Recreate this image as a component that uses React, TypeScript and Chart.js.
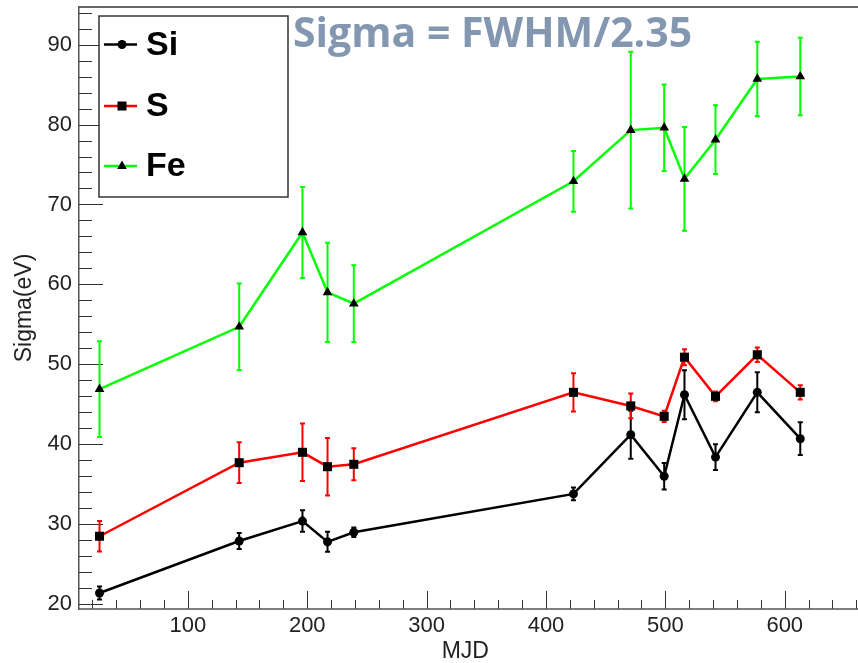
import React, { useEffect, useRef } from "react";
import { Chart, registerables } from "chart.js";

Chart.register(...registerables);

const mjd = [26, 143, 196, 217, 239, 423, 471, 499, 516, 542, 577, 613];
const siValues = [21.4, 27.9, 30.4, 27.8, 29.0, 33.8, 41.2, 36.0, 46.2, 38.4, 46.5, 40.7];
const siErrors = [0.8, 1.0, 1.35, 1.25, 0.6, 0.8, 3.0, 1.65, 3.05, 1.6, 2.5, 2.05];
const sValues = [28.5, 37.7, 39.0, 37.2, 37.5, 46.5, 44.8, 43.5, 50.9, 46.0, 51.2, 46.5];
const sErrors = [1.9, 2.55, 3.6, 3.6, 2.0, 2.4, 1.55, 0.7, 1.0, 0.6, 0.9, 0.9];
const feValues = [46.9, 54.7, 66.5, 59.0, 57.6, 72.9, 79.3, 79.6, 73.2, 78.1, 85.7, 86.0];
const feErrors = [6.0, 5.4, 5.7, 6.2, 4.8, 3.8, 9.8, 5.4, 6.5, 4.3, 4.65, 4.85];

const seriesNames = ["Si", "S", "Fe"];
const seriesColors = ["#000000", "#ff0000", "#00ff00"];
const seriesMarkers = ["circle", "rect", "triangle"];
const seriesValues = [siValues, sValues, feValues];
const seriesErrors = [siErrors, sErrors, feErrors];

const titleText = "Sigma = FWHM/2.35";
const xTitle = "MJD";
const yTitle = "Sigma(eV)";
const xRange = [8.8, 656];
const yRange = [19.4, 94.7];
const xMajorStep = 100;
const xMinorStep = 20;
const yMajorStep = 10;
const yMinorStep = 2;

const FONT = "'Liberation Sans', Arial, sans-serif";

const errorBars = {
  id: "errorBars",
  beforeDatasetsDraw(chart: any) {
    const { ctx, scales } = chart;
    const x = scales.x;
    const y = scales.y;
    ctx.save();
    ctx.lineWidth = 2;
    seriesValues.forEach((vals, i) => {
      ctx.strokeStyle = seriesColors[i];
      ctx.beginPath();
      vals.forEach((v, j) => {
        const e = seriesErrors[i][j];
        const px = x.getPixelForValue(mjd[j]);
        const top = y.getPixelForValue(v + e);
        const bot = y.getPixelForValue(v - e);
        ctx.moveTo(px, top);
        ctx.lineTo(px, bot);
        ctx.moveTo(px - 2.5, top);
        ctx.lineTo(px + 2.5, top);
        ctx.moveTo(px - 2.5, bot);
        ctx.lineTo(px + 2.5, bot);
      });
      ctx.stroke();
    });
    ctx.restore();
  },
};

const frameTicks = {
  id: "frameTicks",
  beforeDatasetsDraw(chart: any) {
    const { ctx, chartArea: a, scales } = chart;
    const x = scales.x;
    const y = scales.y;
    const w = chart.width;
    ctx.save();
    ctx.strokeStyle = "#333";
    ctx.lineWidth = 1;
    ctx.beginPath();
    const x0 = Math.ceil(x.min / xMinorStep) * xMinorStep;
    for (let v = x0; v <= x.max + 5; v += xMinorStep) {
      const px = Math.round(x.getPixelForValue(v)) + 0.5;
      const len = v % xMajorStep === 0 ? 18 : 9;
      ctx.moveTo(px, a.bottom);
      ctx.lineTo(px, a.bottom - len);
    }
    const y0 = Math.ceil(y.min / yMinorStep) * yMinorStep;
    for (let v = y0; v <= y.max; v += yMinorStep) {
      const py = Math.round(y.getPixelForValue(v)) + 0.5;
      const len = v % yMajorStep === 0 ? 24 : 13;
      ctx.moveTo(a.left, py);
      ctx.lineTo(a.left + len, py);
    }
    ctx.stroke();
    // bottom axis line and top frame line, running to the canvas edge
    ctx.strokeStyle = "#555";
    ctx.lineWidth = 1.5;
    ctx.beginPath();
    ctx.moveTo(a.left, a.bottom);
    ctx.lineTo(w, a.bottom);
    ctx.stroke();
    ctx.strokeStyle = "#666";
    ctx.lineWidth = 2;
    ctx.beginPath();
    ctx.moveTo(a.left, a.top);
    ctx.lineTo(w, a.top);
    ctx.stroke();
    ctx.restore();
  },
};

function drawMarker(ctx: CanvasRenderingContext2D, kind: string, cx: number, cy: number) {
  ctx.fillStyle = "#000";
  ctx.beginPath();
  if (kind === "circle") {
    ctx.arc(cx, cy, 4.5, 0, Math.PI * 2);
  } else if (kind === "rect") {
    ctx.rect(cx - 4.5, cy - 4.5, 9, 9);
  } else {
    ctx.moveTo(cx, cy - 5.5);
    ctx.lineTo(cx + 4.8, cy + 3);
    ctx.lineTo(cx - 4.8, cy + 3);
    ctx.closePath();
  }
  ctx.fill();
}

const overlay = {
  id: "overlay",
  afterDraw(chart: any) {
    const { ctx } = chart;
    ctx.save();
    ctx.fillStyle = "#fff";
    ctx.fillRect(99, 16, 189, 181);
    ctx.strokeStyle = "#333";
    ctx.lineWidth = 1.5;
    ctx.strokeRect(99, 16, 189, 181);
    const rows = [44.5, 106, 166];
    seriesNames.forEach((name, i) => {
      const cy = rows[i];
      ctx.strokeStyle = seriesColors[i];
      ctx.lineWidth = 2.5;
      ctx.beginPath();
      ctx.moveTo(104, cy);
      ctx.lineTo(137, cy);
      ctx.stroke();
      drawMarker(ctx, seriesMarkers[i], 122, cy);
      ctx.fillStyle = "#000";
      ctx.font = `bold 34px ${FONT}`;
      ctx.textBaseline = "middle";
      ctx.textAlign = "left";
      ctx.fillText(name, 146, cy + 1);
    });
    ctx.fillStyle = "#8497b0";
    ctx.font = "bold 41px 'Open Sans', sans-serif";
    ctx.textBaseline = "alphabetic";
    ctx.textAlign = "left";
    ctx.fillText(titleText, 293, 47);
    ctx.restore();
  },
};

export default function App() {
  const ref = useRef<HTMLCanvasElement>(null);
  useEffect(() => {
    document.body.style.margin = "0";
    document.body.style.overflow = "hidden";
    const canvas = ref.current;
    if (!canvas) return;
    const datasets = seriesNames.map((name, i) => ({
      label: name,
      data: mjd.map((m, j) => ({ x: m, y: seriesValues[i][j] })),
      showLine: true,
      borderColor: seriesColors[i],
      borderWidth: 2.5,
      backgroundColor: "#000",
      pointBackgroundColor: "#000",
      pointBorderColor: "#000",
      pointBorderWidth: 0,
      pointStyle: seriesMarkers[i],
      pointRadius: i === 0 ? 4.5 : i === 1 ? 6.4 : 5.6,
      pointHoverRadius: 0,
      tension: 0,
      clip: false,
    }));
    const chart = new Chart(canvas, {
      type: "scatter",
      data: { datasets } as any,
      options: {
        animation: false,
        responsive: false,
        devicePixelRatio: 1,
        layout: { padding: { top: 7, left: 0, right: 0, bottom: 0 } },
        plugins: { legend: { display: false }, tooltip: { enabled: false } },
        scales: {
          x: {
            type: "linear",
            min: xRange[0],
            max: xRange[1],
            afterFit: (s: any) => {
              s.height = 54;
              s.paddingLeft = 0;
              s.paddingRight = 0;
              s.paddingTop = 0;
              s.paddingBottom = 0;
            },
            grid: { display: false, drawTicks: false },
            border: { display: false },
            ticks: {
              stepSize: xMajorStep,
              includeBounds: false,
              padding: 4,
              color: "#222",
              font: { family: FONT, size: 22 },
              maxRotation: 0,
              autoSkip: false,
              callback: (v: any) => (Number(v) % xMajorStep === 0 ? String(v) : ""),
            },
            title: {
              display: true,
              text: xTitle,
              color: "#222",
              font: { family: FONT, size: 23, lineHeight: 1 },
              padding: 0,
            },
          },
          y: {
            type: "linear",
            min: yRange[0],
            max: yRange[1],
            afterFit: (s: any) => {
              s.width = 79;
              s.paddingLeft = 0;
              s.paddingRight = 0;
              s.paddingTop = 0;
              s.paddingBottom = 0;
            },
            grid: { display: false, drawTicks: false },
            border: { display: true, color: "#555", width: 1.5 },
            ticks: {
              stepSize: yMajorStep,
              includeBounds: false,
              padding: 7,
              color: "#222",
              font: { family: FONT, size: 22 },
              autoSkip: false,
              callback: (v: any) => (Number(v) % yMajorStep === 0 ? String(v) : ""),
            },
            title: {
              display: true,
              text: yTitle,
              color: "#222",
              font: { family: FONT, size: 23, lineHeight: 1 },
              padding: { top: 13.5, bottom: 0 },
            },
          },
        },
      } as any,
      plugins: [frameTicks, errorBars, overlay],
    });
    return () => chart.destroy();
  }, []);
  return (
    <div style={{ width: 858, height: 663, background: "#fff" }}>
      <canvas ref={ref} width={858} height={663} style={{ display: "block" }} />
    </div>
  );
}
